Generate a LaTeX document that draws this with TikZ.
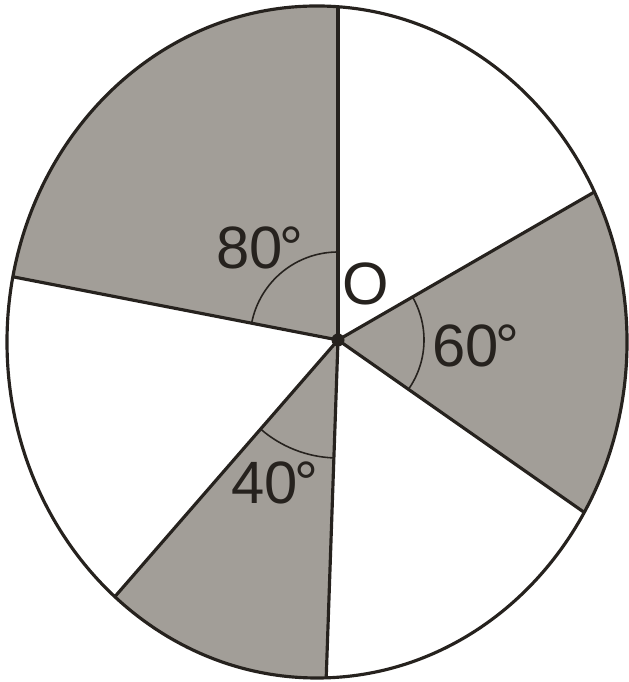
\documentclass[tikz,border=0pt]{standalone}
\usepackage{fontspec}
\setmainfont{Liberation Sans}
\definecolor{inkdark}{RGB}{38,34,30}
\definecolor{dotgray}{RGB}{162,158,152}
\usetikzlibrary{calc}

\begin{document}
\begin{tikzpicture}[line cap=round,
  rim/.style={inkdark, line width=0.9pt},
  angmark/.style={inkdark, line width=0.45pt},
  deglabel/.style={inkdark, font=\fontsize{17}{20}\selectfont, inner sep=0pt}]
\useasboundingbox (0,0) rectangle (6.28,6.82);
\coordinate (O) at (3.38,3.42);

% Shaded sectors
\begin{scope}
  \clip (3.17,3.40) ellipse [x radius=3.10cm, y radius=3.36cm];
  \foreach \a/\b in {90/169, 229/268, -35/30}{
    \fill[dotgray] (O) -- ++(\a:6) -- ($(O)+(\b:6)$) -- cycle;
  }
  % Draw radii
  \foreach \a in {90,30,-35,268,229,169}{
    \draw[rim] (O) -- ++(\a:6);
  }
\end{scope}

% Draw circle
\draw[rim] (3.17,3.40) ellipse [x radius=3.10cm, y radius=3.36cm];
\fill[inkdark] (O) circle (0.065);

% Angle marks
\draw[angmark] (O) ++(90:0.88) arc (90:169:0.88);
\draw[angmark] (O) ++(-35:0.86) arc (-35:30:0.86);
\draw[angmark] (O) ++(229:1.18) arc (229:268:1.18);

\node[deglabel] (lab80) at (2.60,4.34) {80\kern-0.06em°};
\node[deglabel] (labO) at (3.66,3.98) {O};
\node[deglabel] (lab60) at (4.76,3.36) {60\kern-0.06em°};
\node[deglabel] (lab40) at (2.75,1.99) {40\kern-0.06em°};
\end{tikzpicture}
\end{document}
